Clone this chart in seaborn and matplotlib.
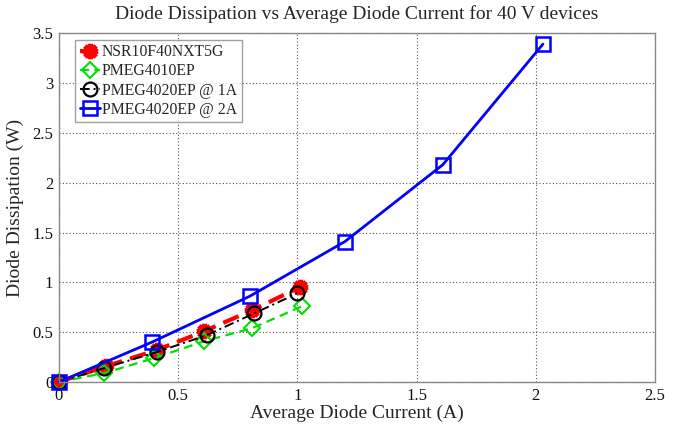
import numpy as np
import pandas as pd
import matplotlib.pyplot as plt
import seaborn as sns

# values
nsr_i = [0, 0.20, 0.41, 0.61, 0.81, 1.01]
nsr_p = [0, 0.16, 0.32, 0.51, 0.72, 0.95]
p4010_i = [0, 0.19, 0.40, 0.61, 0.81, 1.02]
p4010_p = [0, 0.09, 0.24, 0.41, 0.54, 0.76]
p4020a_i = [0, 0.19, 0.41, 0.62, 0.82, 1.00]
p4020a_p = [0, 0.14, 0.30, 0.47, 0.69, 0.89]
p4020b_i = [0, 0.39, 0.80, 1.20, 1.61, 2.03]
p4020b_p = [0, 0.40, 0.86, 1.41, 2.18, 3.39]

names = ["NSR10F40NXT5G", "PMEG4010EP", "PMEG4020EP @ 1A", "PMEG4020EP @ 2A"]

sns.set_style("white")
plt.rcParams['font.family'] = ['Liberation Serif', 'DejaVu Serif']

fig = plt.figure(figsize=(6.91, 4.25), dpi=100)
ax = fig.add_axes([0.085, 0.101, 0.863, 0.821])

styles = [
    dict(color="red", linestyle=(0, (4, 2)), linewidth=3, marker=(8, 2, 0), markersize=11,
         markeredgewidth=3.5, markerfacecolor="red", markeredgecolor="red"),
    dict(color="#00e000", linestyle=(0, (4, 2.5)), linewidth=1.6, marker="D", markersize=8,
         markerfacecolor="none", markeredgewidth=1.5, markeredgecolor="#00e000"),
    dict(color="black", linestyle=(0, (5, 2, 1, 2)), linewidth=1.4, marker="o", markersize=10,
         markerfacecolor="none", markeredgewidth=1.6, markeredgecolor="black"),
    dict(color="#0000ff", linestyle="-", linewidth=2, marker="s", markersize=10,
         markerfacecolor="none", markeredgewidth=1.8, markeredgecolor="#0000ff"),
]
series = [(nsr_i, nsr_p), (p4010_i, p4010_p), (p4020a_i, p4020a_p), (p4020b_i, p4020b_p)]

for (xs, ys), name, st in zip(series, names, styles):
    df = pd.DataFrame({"x": xs, "y": ys})
    sns.lineplot(data=df, x="x", y="y", ax=ax, label=name, sort=False, clip_on=False, **st)

ax.set_xlim(0, 2.5)
ax.set_ylim(0, 3.5)
ax.set_xticks([0, 0.5, 1, 1.5, 2, 2.5])
ax.set_xticklabels(["0", "0.5", "1", "1.5", "2", "2.5"])
ax.set_yticks([0, 0.5, 1, 1.5, 2, 2.5, 3, 3.5])
ax.set_yticklabels(["0", "0.5", "1", "1.5", "2", "2.5", "3", "3.5"])
ax.grid(True, linestyle=(0, (1, 2)), color="#555555", linewidth=0.8)
for s in ax.spines.values():
    s.set_color("#888888")
    s.set_linewidth(1)
ax.tick_params(labelsize=12, colors="#111111", length=0, pad=4)
ax.set_xlabel("Average Diode Current (A)", fontsize=14, labelpad=1)
ax.set_ylabel("Diode Dissipation (W)", fontsize=14, labelpad=6)
ax.set_title("Diode Dissipation vs Average Diode Current for 40 V devices", fontsize=14, pad=10)

leg = ax.legend(loc="upper left", bbox_to_anchor=(0.02, 0.995), fontsize=11.3, frameon=True,
                fancybox=False, handlelength=1.3, handletextpad=0.1, borderpad=0.3,
                labelspacing=0.2, borderaxespad=0.3)
leg.get_frame().set_edgecolor("#888888")
leg.get_frame().set_linewidth(1)

fig.savefig("out.png", dpi=100)
